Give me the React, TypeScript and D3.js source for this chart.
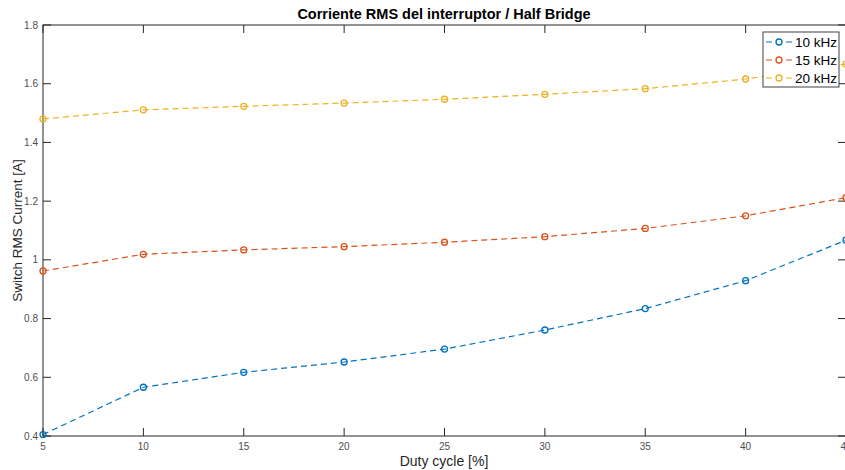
import React from "react";
import * as d3 from "d3";

const duty = [5, 10, 15, 20, 25, 30, 35, 40, 45];
const s10 = [0.405, 0.566, 0.617, 0.652, 0.696, 0.761, 0.834, 0.929, 1.067];
const s15 = [0.962, 1.019, 1.034, 1.045, 1.06, 1.079, 1.107, 1.15, 1.212];
const s20 = [1.48, 1.511, 1.523, 1.534, 1.547, 1.564, 1.583, 1.616, 1.667];
const seriesNames = ["10 kHz", "15 kHz", "20 kHz"];
const seriesColors = ["#0072BD", "#D95319", "#EDB120"];
const xTicks = [5, 10, 15, 20, 25, 30, 35, 40, 45];
const yTicks = [0.4, 0.6, 0.8, 1, 1.2, 1.4, 1.6, 1.8];

const W = 845, H = 470;
const L = 43, R = 846, T = 25, B = 436;
const axisColor = "#262626";
const font = "'Liberation Sans', Arial, Helvetica, sans-serif";

export default function App() {
  const x = d3.scaleLinear().domain([5, 45]).range([L, R]);
  const y = d3.scaleLinear().domain([0.4, 1.8]).range([B, T]);
  const line = d3.line<number>().x((_, i) => x(duty[i])).y((d) => y(d));
  const all = [s10, s15, s20];
  const tl = 8;
  return (
    <svg width={W} height={H} style={{ position: "absolute", left: 0, top: 0, background: "#fff" }} fontFamily={font}>
      <rect x={0} y={0} width={W} height={H} fill="#fff" />
      <rect x={L} y={T} width={R - L} height={B - T} fill="none" stroke={axisColor} strokeWidth={1} />
      {xTicks.map((t) => (
        <g key={"x" + t}>
          <line x1={x(t)} x2={x(t)} y1={B} y2={B - tl} stroke={axisColor} />
          <line x1={x(t)} x2={x(t)} y1={T} y2={T + tl} stroke={axisColor} />
          <text x={x(t)} y={450} fontSize={10} fill="#4d4d4d" textAnchor="middle">{t}</text>
        </g>
      ))}
      {yTicks.map((t) => (
        <g key={"y" + t}>
          <line x1={L} x2={L + tl} y1={y(t)} y2={y(t)} stroke={axisColor} />
          <line x1={R} x2={R - tl} y1={y(t)} y2={y(t)} stroke={axisColor} />
          <text x={38} y={y(t) + 3.5} fontSize={10} fill="#4d4d4d" textAnchor="end">{t}</text>
        </g>
      ))}
      {all.map((s, si) => (
        <g key={"s" + si}>
          <path d={line(s) || ""} fill="none" stroke={seriesColors[si]} strokeWidth={1.2} strokeDasharray="6,4" />
          {s.map((v, i) => (
            <circle key={i} cx={x(duty[i])} cy={y(v)} r={3} fill="none" stroke={seriesColors[si]} strokeWidth={1.3} />
          ))}
        </g>
      ))}
      <text x={444} y={19} fontSize={14.5} fontWeight="bold" textAnchor="middle" fill="#000">Corriente RMS del interruptor / Half Bridge</text>
      <text x={444} y={466} fontSize={14} textAnchor="middle" fill="#262626">Duty cycle [%]</text>
      <text transform={`translate(22,${(T + B) / 2}) rotate(-90)`} fontSize={13.5} textAnchor="middle" fill="#262626">Switch RMS Current [A]</text>
      <g>
        <rect x={763} y={32} width={76} height={55} fill="#fff" stroke="#404040" strokeWidth={1} />
        {seriesNames.map((n, i) => {
          const ly = 42 + i * 18;
          return (
            <g key={n}>
              <line x1={766} x2={793} y1={ly} y2={ly} stroke={seriesColors[i]} strokeWidth={1.2} strokeDasharray="6,4" />
              <circle cx={779} cy={ly} r={3} fill="#fff" stroke={seriesColors[i]} strokeWidth={1.3} />
              <text x={795} y={ly + 5} fontSize={13.5} fill="#000">{n}</text>
            </g>
          );
        })}
      </g>
    </svg>
  );
}
